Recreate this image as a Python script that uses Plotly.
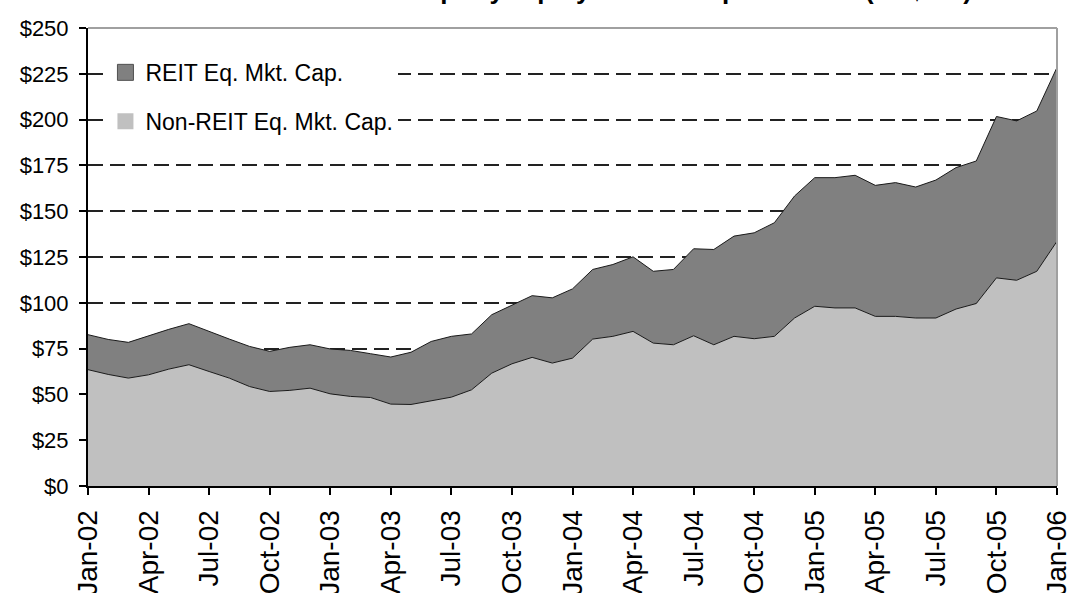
import plotly.graph_objects as go

month_names = ["Jan", "Feb", "Mar", "Apr", "May", "Jun", "Jul", "Aug", "Sep", "Oct", "Nov", "Dec"]
years = ["02", "03", "04", "05"]
months = [f"{m}-{y}" for y in years for m in month_names] + ["Jan-06"]

non_reit = [63.5, 60.9, 58.9, 60.7, 63.8, 66.2, 62.5, 58.9, 54.3, 51.6,
            52.2, 53.4, 50.3, 48.9, 48.3, 44.7, 44.5, 46.5, 48.5, 52.5,
            61.6, 66.7, 70.2, 67.1, 69.8, 80.2, 81.7, 84.4, 78.0, 77.1,
            82.0, 77.1, 81.7, 80.4, 81.7, 91.7, 98.1, 97.2, 97.2, 92.6,
            92.6, 91.7, 91.7, 96.6, 99.6, 113.6, 112.3, 117.2, 133.6]

reit = [19.1, 19.1, 19.5, 21.4, 21.7, 22.4, 21.7, 21.3, 21.9, 21.9,
        23.5, 23.7, 24.5, 25.1, 23.9, 25.7, 28.5, 32.4, 33.2, 30.5,
        31.9, 31.8, 33.7, 35.6, 37.8, 38.0, 39.2, 40.7, 39.2, 41.1,
        47.5, 52.0, 54.7, 57.8, 62.0, 66.6, 70.2, 71.1, 72.4, 71.5,
        73.0, 71.5, 75.3, 77.2, 77.8, 88.1, 87.0, 87.5, 94.9]

tick_labels = ["Jan-02", "Apr-02", "Jul-02", "Oct-02", "Jan-03", "Apr-03", "Jul-03",
               "Oct-03", "Jan-04", "Apr-04", "Jul-04", "Oct-04", "Jan-05", "Apr-05",
               "Jul-05", "Oct-05", "Jan-06"]

y_ticks = [0, 25, 50, 75, 100, 125, 150, 175, 200, 225, 250]
y_tick_text = ["$0", "$25", "$50", "$75", "$100", "$125", "$150", "$175", "$200", "$225", "$250"]

title_text = "Asia Pacific Listed Property Equity Market Capitalization (US$ bn)"
series_names = ["REIT Eq. Mkt. Cap.", "Non-REIT Eq. Mkt. Cap."]

FONT = "Liberation Sans, Arial, sans-serif"
DARK = "#808080"
LIGHT = "#c0c0c0"

fig = go.Figure()

fig.add_trace(go.Scatter(
    x=months, y=non_reit, stackgroup="one", mode="lines",
    line=dict(color="#1a1a1a", width=1), fillcolor=LIGHT,
    name=series_names[1], showlegend=False, hoverinfo="skip"))
fig.add_trace(go.Scatter(
    x=months, y=reit, stackgroup="one", mode="lines",
    line=dict(color="#1a1a1a", width=1), fillcolor=DARK,
    name=series_names[0], showlegend=False, hoverinfo="skip"))

# legend-only entries with square swatches
fig.add_trace(go.Scatter(
    x=[None], y=[None], mode="markers", name=series_names[0], legendgroup="a",
    marker=dict(symbol="square", size=16, color=DARK, line=dict(color="#505050", width=1))))
fig.add_trace(go.Scatter(
    x=[None], y=[None], mode="markers", name=series_names[1], legendgroup="b",
    marker=dict(symbol="square", size=16, color=LIGHT, line=dict(color=LIGHT, width=0))))

fig.update_layout(
    width=1067, height=593,
    margin=dict(l=88, r=10, t=28, b=107),
    paper_bgcolor="white", plot_bgcolor="white",
    font=dict(family=FONT, color="black"),
    showlegend=True,
    legend=dict(
        x=0.018, y=0.95, xanchor="left", yanchor="top",
        bgcolor="white", borderwidth=0,
        font=dict(family=FONT, size=23, color="black"),
        traceorder="grouped", tracegroupgap=16,
        itemsizing="trace"),
    xaxis=dict(
        type="category", range=[0, len(months) - 1], automargin=False,
        tickmode="array", tickvals=tick_labels, ticktext=tick_labels,
        tickangle=-90, ticks="outside", ticklen=7, tickwidth=2, tickcolor="black",
        ticklabelstandoff=4,
        showline=True, linecolor="black", linewidth=2,
        showgrid=False, zeroline=False,
        tickfont=dict(family=FONT, size=28, color="black")),
    yaxis=dict(
        range=[0, 250], automargin=False, tickmode="array",
        tickvals=y_ticks, ticktext=y_tick_text,
        ticks="outside", ticklen=7, tickwidth=2, tickcolor="black",
        ticklabelstandoff=6,
        showline=True, linecolor="black", linewidth=2,
        showgrid=True, gridcolor="#222222", gridwidth=2, griddash="15px,7px",
        zeroline=False,
        tickfont=dict(family=FONT, size=22, color="black")),
    shapes=[
        dict(type="line", xref="paper", yref="paper", x0=0, x1=1, y0=1, y1=1,
             line=dict(color="#a0a0a0", width=2), layer="above"),
        dict(type="line", xref="paper", yref="paper", x0=1, x1=1, y0=0, y1=1,
             line=dict(color="#a0a0a0", width=2), layer="above"),
    ],
    annotations=[dict(
        text="<b>" + title_text + "</b>", xref="paper", yref="paper", x=0.493, y=1.045,
        xanchor="center", yanchor="bottom", showarrow=False,
        font=dict(family=FONT, size=26, color="black"))],
)

fig.write_html("out.html", config={"displayModeBar": False},
               post_script="document.body.style.margin='0';document.body.style.overflow='hidden';")
